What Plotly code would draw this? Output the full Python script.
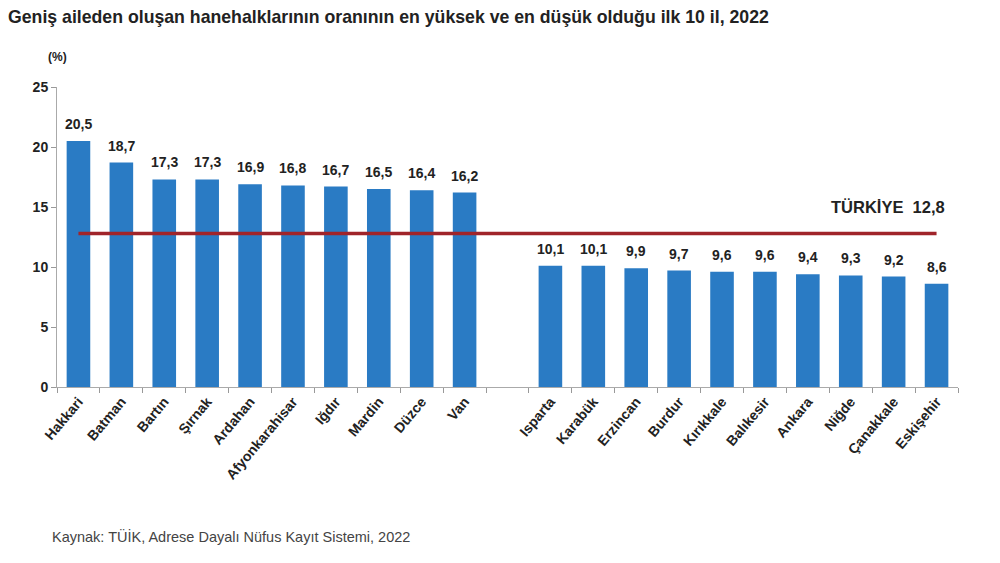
import plotly.graph_objects as go

# en yuksek 10 il ve en dusuk 10 il
top_iller = ["Hakkari", "Batman", "Bartın", "Şırnak", "Ardahan",
             "Afyonkarahisar", "Iğdır", "Mardin", "Düzce", "Van"]
top_oran = [20.5, 18.7, 17.3, 17.3, 16.9, 16.8, 16.7, 16.5, 16.4, 16.2]

low_iller = ["Isparta", "Karabük", "Erzincan", "Burdur", "Kırıkkale",
             "Balıkesir", "Ankara", "Niğde", "Çanakkale", "Eskişehir"]
low_oran = [10.1, 10.1, 9.9, 9.7, 9.6, 9.6, 9.4, 9.3, 9.2, 8.6]

turkiye = 12.8
y_ticks = [0, 5, 10, 15, 20, 25]

gap = " "  # empty slot between the two groups
iller = top_iller + low_iller
oran = top_oran + low_oran
kategori = top_iller + [gap] + low_iller

FONT = "Liberation Sans Narrow, Arial Narrow, Liberation Sans, Arial, sans-serif"
TXT = "#222222"


def virgul(v):
    return f"{v:.1f}".replace(".", ",")


fig = go.Figure()
fig.add_trace(go.Bar(x=iller, y=oran, marker_color="#2a7bc4",
                     marker_line_width=0, hoverinfo="x+y"))
fig.add_trace(go.Scatter(x=[iller[0], iller[-1]], y=[turkiye, turkiye],
                         mode="lines", line=dict(color="#a0242a", width=3.5),
                         hoverinfo="skip"))

for il, v in zip(iller, oran):
    fig.add_annotation(x=il, y=v, text=virgul(v),
                       showarrow=False, yanchor="bottom", yshift=7,
                       font=dict(family=FONT, size=14, color=TXT, weight="bold"))

fig.add_annotation(x=iller[-1], y=turkiye, text="TÜRKİYE  " + virgul(turkiye),
                   showarrow=False, xanchor="right", yanchor="bottom", xshift=10, yshift=15,
                   font=dict(family=FONT, size=16.5, color=TXT, weight="bold"))

fig.add_annotation(xref="paper", yref="paper", x=0, y=1, text="(%)", showarrow=False,
                   xanchor="center", yanchor="bottom", yshift=21,
                   font=dict(family=FONT, size=12, color=TXT, weight="bold"))

fig.update_layout(
    width=1000, height=563,
    paper_bgcolor="white", plot_bgcolor="white",
    margin=dict(l=49, r=50, t=79, b=184),
    showlegend=False,
    bargap=0.45,
    font=dict(family=FONT, color=TXT),
    title=dict(text="<b>Geniş aileden oluşan hanehalklarının oranının en yüksek ve en düşük olduğu ilk 10 il, 2022</b>",
               x=0, xanchor="left", y=0.984, yanchor="middle",
               font=dict(family=FONT, size=17.7, color=TXT)),
    xaxis=dict(type="category", categoryorder="array", categoryarray=kategori,
               range=[-0.5, len(kategori) - 0.5],
               tickangle=-50, tickson="boundaries", ticks="outside", ticklen=5,
               tickcolor="#999999", showline=True, linecolor="#aaaaaa", linewidth=1,
               showgrid=False,
               tickfont=dict(family=FONT, size=14, color=TXT, weight="bold")),
    yaxis=dict(range=[0, 25], tickvals=y_ticks, ticks="outside", ticklen=5,
               tickcolor="#999999", showline=True, linecolor="#aaaaaa", linewidth=1,
               showgrid=False, zeroline=False,
               tickfont=dict(family=FONT, size=14, color=TXT, weight="bold")),
)

fig.add_annotation(xref="paper", yref="paper", x=-0.008, y=0, yshift=-149,
                   text="Kaynak: TÜİK, Adrese Dayalı Nüfus Kayıt Sistemi, 2022",
                   showarrow=False, xanchor="left", yanchor="middle",
                   font=dict(family=FONT, size=14.5, color="#444444"))

fig.write_html("out.html")
